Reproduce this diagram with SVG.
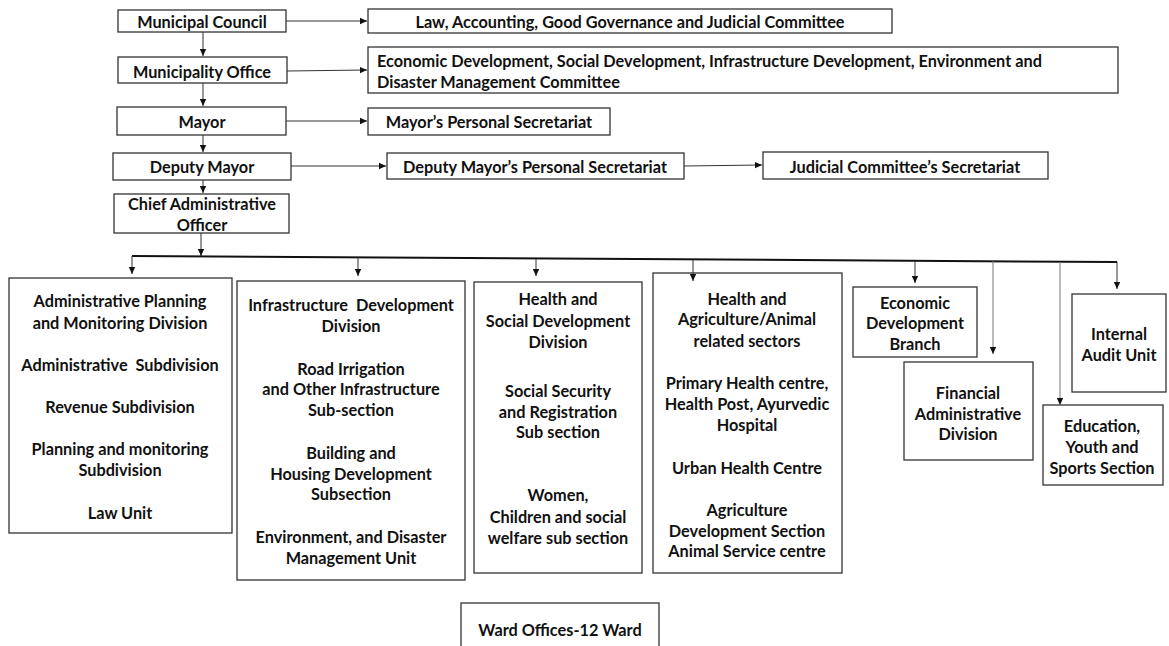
<svg xmlns="http://www.w3.org/2000/svg" width="1169" height="646" viewBox="0 0 1169 646">
  <defs>
    <marker id="arrow" markerUnits="userSpaceOnUse" markerWidth="8" markerHeight="8" refX="7" refY="4" orient="auto">
      <path d="M0,0.8 L7,4 L0,7.2 Z" fill="#111"/>
    </marker>
    <style>
      .box { fill: #fff; stroke: #333; stroke-width: 1.3; }
      .lbl { font-family: Lato, "Liberation Sans", sans-serif; font-weight: bold; font-size: 16.3px; fill: #111; text-anchor: middle; dominant-baseline: central; }
      .left { text-anchor: start; }
      .conn { fill: none; stroke: #333; stroke-width: 1; marker-end: url(#arrow); }
      .grey { stroke: #777; }
      .bus { fill: none; stroke: #111; stroke-width: 2; }
    </style>
  </defs>

  <rect width="1169" height="646" fill="#fff"/>

  <!-- upper hierarchy -->
  <g id="municipal-council">
    <rect class="box" x="118" y="10" width="168" height="22"/>
    <text class="lbl" x="202" y="21">Municipal Council</text>
  </g>
  <g id="law-committee">
    <rect class="box" x="368" y="9" width="524" height="24"/>
    <text class="lbl" x="630" y="21">Law, Accounting, Good Governance and Judicial Committee</text>
  </g>
  <g id="municipality-office">
    <rect class="box" x="118" y="57" width="169" height="26"/>
    <text class="lbl" x="202" y="71">Municipality Office</text>
  </g>
  <g id="development-committee">
    <rect class="box" x="368" y="47" width="750" height="46"/>
    <text class="lbl left" x="377" y="60">Economic Development, Social Development, Infrastructure Development, Environment and</text>
    <text class="lbl left" x="377" y="81">Disaster Management Committee</text>
  </g>
  <g id="mayor">
    <rect class="box" x="117" y="107" width="169" height="28"/>
    <text class="lbl" x="202" y="121">Mayor</text>
  </g>
  <g id="mayor-secretariat">
    <rect class="box" x="368" y="108" width="242" height="27"/>
    <text class="lbl" x="489" y="121">Mayor’s Personal Secretariat</text>
  </g>
  <g id="deputy-mayor">
    <rect class="box" x="113" y="153" width="178" height="27"/>
    <text class="lbl" x="202" y="166">Deputy Mayor</text>
  </g>
  <g id="deputy-mayor-secretariat">
    <rect class="box" x="387" y="153" width="297" height="26"/>
    <text class="lbl" x="535" y="166">Deputy Mayor’s Personal Secretariat</text>
  </g>
  <g id="judicial-secretariat">
    <rect class="box" x="763" y="152" width="285" height="27"/>
    <text class="lbl" x="905" y="166">Judicial Committee’s Secretariat</text>
  </g>
  <g id="chief-administrative-officer">
    <rect class="box" x="114" y="194" width="175" height="39"/>
    <text class="lbl" x="202" y="203">Chief Administrative</text>
    <text class="lbl" x="202" y="224">Officer</text>
  </g>

  <!-- divisions -->
  <g id="admin-planning-division">
    <rect class="box" x="9" y="278" width="223" height="255"/>
    <text class="lbl" x="120" y="300">Administrative Planning</text>
    <text class="lbl" x="120" y="322">and Monitoring Division</text>
    <text class="lbl" x="120" y="364" xml:space="preserve">Administrative  Subdivision</text>
    <text class="lbl" x="120" y="406">Revenue Subdivision</text>
    <text class="lbl" x="120" y="448">Planning and monitoring</text>
    <text class="lbl" x="120" y="469">Subdivision</text>
    <text class="lbl" x="120" y="512">Law Unit</text>
  </g>
  <g id="infrastructure-division">
    <rect class="box" x="237" y="281" width="228" height="299"/>
    <text class="lbl" x="351" y="304" xml:space="preserve">Infrastructure  Development</text>
    <text class="lbl" x="351" y="325">Division</text>
    <text class="lbl" x="351" y="368">Road Irrigation</text>
    <text class="lbl" x="351" y="388">and Other Infrastructure</text>
    <text class="lbl" x="351" y="409">Sub-section</text>
    <text class="lbl" x="351" y="452">Building and</text>
    <text class="lbl" x="351" y="473">Housing Development</text>
    <text class="lbl" x="351" y="493">Subsection</text>
    <text class="lbl" x="351" y="536">Environment, and Disaster</text>
    <text class="lbl" x="351" y="557">Management Unit</text>
  </g>
  <g id="health-social-division">
    <rect class="box" x="474" y="282" width="168" height="291"/>
    <text class="lbl" x="558" y="298">Health and</text>
    <text class="lbl" x="558" y="320">Social Development</text>
    <text class="lbl" x="558" y="341">Division</text>
    <text class="lbl" x="558" y="390">Social Security</text>
    <text class="lbl" x="558" y="411">and Registration</text>
    <text class="lbl" x="558" y="431">Sub section</text>
    <text class="lbl" x="558" y="494">Women,</text>
    <text class="lbl" x="558" y="516">Children and social</text>
    <text class="lbl" x="558" y="537">welfare sub section</text>
  </g>
  <g id="health-agriculture-sectors">
    <rect class="box" x="653" y="273" width="189" height="300"/>
    <text class="lbl" x="747" y="298">Health and</text>
    <text class="lbl" x="747" y="318">Agriculture/Animal</text>
    <text class="lbl" x="747" y="340">related sectors</text>
    <text class="lbl" x="747" y="382">Primary Health centre,</text>
    <text class="lbl" x="747" y="403">Health Post, Ayurvedic</text>
    <text class="lbl" x="747" y="424">Hospital</text>
    <text class="lbl" x="747" y="467">Urban Health Centre</text>
    <text class="lbl" x="747" y="509">Agriculture</text>
    <text class="lbl" x="747" y="530">Development Section</text>
    <text class="lbl" x="747" y="550">Animal Service centre</text>
  </g>
  <g id="economic-development-branch">
    <rect class="box" x="853" y="287" width="124" height="70"/>
    <text class="lbl" x="915" y="302">Economic</text>
    <text class="lbl" x="915" y="322">Development</text>
    <text class="lbl" x="915" y="343">Branch</text>
  </g>
  <g id="financial-administrative-division">
    <rect class="box" x="904" y="362" width="129" height="98"/>
    <text class="lbl" x="968" y="392">Financial</text>
    <text class="lbl" x="968" y="413">Administrative</text>
    <text class="lbl" x="968" y="433">Division</text>
  </g>
  <g id="internal-audit-unit">
    <rect class="box" x="1072" y="294" width="94" height="98"/>
    <text class="lbl" x="1119" y="333">Internal</text>
    <text class="lbl" x="1119" y="354">Audit Unit</text>
  </g>
  <g id="education-section">
    <rect class="box" x="1043" y="405" width="120" height="80"/>
    <text class="lbl" x="1102" y="425">Education,</text>
    <text class="lbl" x="1102" y="446">Youth and</text>
    <text class="lbl" x="1102" y="467">Sports Section</text>
  </g>

  <g id="ward-offices">
    <rect class="box" x="461" y="603" width="198" height="50"/>
    <text class="lbl" x="560" y="629">Ward Offices-12 Ward</text>
  </g>

  <!-- connectors, drawn last so arrowheads sit on top of box edges -->
  <g id="connectors">
    <!-- council chain -->
    <line class="conn" x1="286" y1="21" x2="367" y2="21"/>
    <line class="conn" x1="203" y1="32" x2="203" y2="56"/>
    <line class="conn" x1="287" y1="71" x2="367" y2="70"/>
    <line class="conn" x1="203" y1="83" x2="203" y2="106"/>
    <line class="conn" x1="286" y1="121" x2="367" y2="121"/>
    <line class="conn" x1="203" y1="135" x2="203" y2="152"/>
    <line class="conn" x1="291" y1="166" x2="386" y2="166"/>
    <line class="conn" x1="684" y1="166" x2="762" y2="165"/>
    <line class="conn" x1="203" y1="180" x2="203" y2="193"/>
    <!-- CAO to bus -->
    <line class="conn" x1="201" y1="233" x2="201" y2="256"/>
    <!-- distribution bus -->
    <path class="bus" d="M132,256 L1117,262"/>
    <!-- drops to divisions -->
    <line class="conn" x1="132" y1="256" x2="132" y2="274"/>
    <line class="conn" x1="358" y1="257" x2="358" y2="276"/>
    <line class="conn" x1="536" y1="259" x2="536" y2="276"/>
    <line class="conn" x1="693" y1="260" x2="693" y2="281"/>
    <line class="conn" x1="915" y1="261" x2="915" y2="283"/>
    <line class="conn grey" x1="993" y1="261" x2="993" y2="354"/>
    <line class="conn grey" x1="1060" y1="262" x2="1060" y2="405"/>
    <line class="conn" x1="1117" y1="262" x2="1117" y2="289"/>
  </g>
</svg>
